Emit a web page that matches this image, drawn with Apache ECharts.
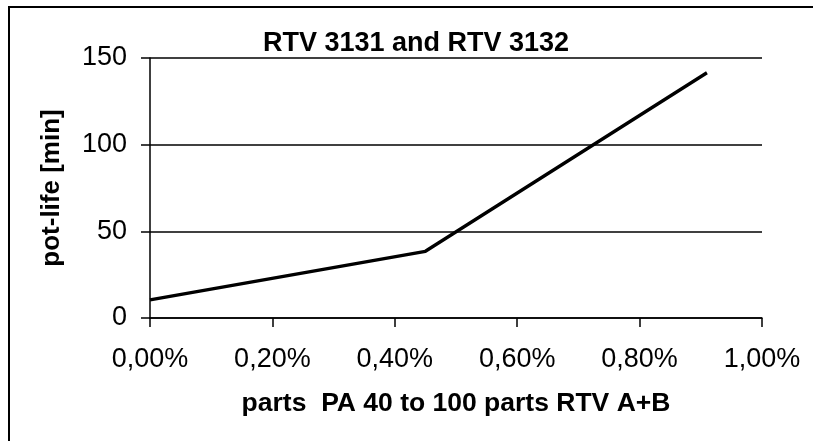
<!DOCTYPE html>
<html>
<head>
<meta charset="utf-8">
<script src="https://cdn.jsdelivr.net/npm/echarts@6/dist/echarts.min.js"></script>
<style>
html,body{margin:0;padding:0;background:#fff;}
#chart{width:813px;height:441px;}
</style>
</head>
<body>
<div id="chart"></div>
<script>
// Data
const partsPA = [0, 0.45, 0.91];          // x values, in percent
const potLifeMin = [10.4, 38.5, 141.5];   // y values, minutes
const titleText = 'RTV 3131 and RTV 3132';
const xAxisName = 'parts  PA 40 to 100 parts RTV A+B';
const yAxisName = 'pot-life [min]';

const FONT = '"Liberation Sans", Arial, sans-serif';
const chart = echarts.init(document.getElementById('chart'), null, {renderer: 'canvas'});

const seriesData = partsPA.map((x, i) => [x, potLifeMin[i]]);

chart.setOption({
  animation: false,
  backgroundColor: '#fff',
  graphic: [{
    type: 'rect',
    shape: {x: 9, y: 7, width: 1000, height: 1000},
    style: {fill: 'none', stroke: '#000', lineWidth: 2},
    silent: true,
    z: 100
  }],
  title: {
    text: titleText,
    left: 411,
    top: 25,
    textAlign: 'center',
    textStyle: {fontFamily: FONT, fontWeight: 'bold', fontSize: 27, color: '#000'}
  },
  grid: {left: 150, right: 51, top: 58, bottom: 123, containLabel: false},
  xAxis: {
    type: 'value',
    min: 0, max: 1, interval: 0.2,
    name: xAxisName,
    nameLocation: 'middle',
    nameGap: 72,
    nameTextStyle: {fontFamily: FONT, fontWeight: 'bold', fontSize: 26.5, color: '#000'},
    axisLine: {show: true, onZero: false, lineStyle: {color: '#000', width: 1.5}},
    axisTick: {show: true, inside: false, length: 9, lineStyle: {color: '#000', width: 1.5}},
    axisLabel: {
      margin: 28,
      fontFamily: FONT, fontSize: 27, color: '#000',
      formatter: v => v.toFixed(2).replace('.', ',') + '%'
    },
    splitLine: {show: false}
  },
  yAxis: {
    type: 'value',
    min: 0, max: 150, interval: 50,
    name: yAxisName,
    nameLocation: 'middle',
    nameGap: 85,
    nameTextStyle: {fontFamily: FONT, fontWeight: 'bold', fontSize: 26, color: '#000'},
    axisLine: {show: true, lineStyle: {color: '#000', width: 1.5}},
    axisTick: {show: true, inside: false, length: 9, lineStyle: {color: '#000', width: 1.5}},
    axisLabel: {margin: 23, fontFamily: FONT, fontSize: 27, color: '#000'},
    splitLine: {show: true, lineStyle: {color: '#000', width: 1.5}}
  },
  series: [{
    type: 'line',
    data: seriesData,
    showSymbol: false,
    symbol: 'none',
    lineStyle: {color: '#000', width: 3.3},
    z: 5
  }]
});
</script>
</body>
</html>
